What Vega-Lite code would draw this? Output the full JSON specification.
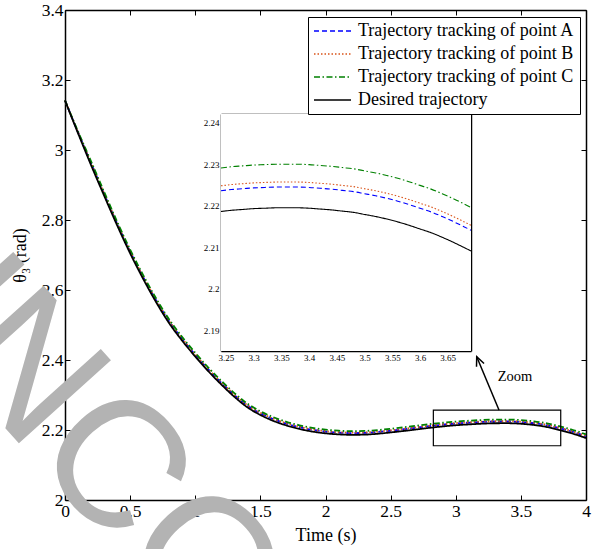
{
  "$schema": "https://vega.github.io/schema/vega-lite/v6.json",
  "width": 521,
  "height": 490,
  "autosize": {"type": "none"},
  "padding": {"left": 65, "top": 10, "right": 6, "bottom": 49},
  "background": "white",
  "config": {
    "view": {"stroke": null},
    "font": "Liberation Serif",
    "text": {"font": "Liberation Serif"},
    "axis": {"labelFont": "Liberation Serif", "titleFont": "Liberation Serif", "labelColor": "black", "titleColor": "black", "tickColor": "black", "domainColor": "black", "grid": false, "titleFontWeight": "normal", "zindex": 1, "labelFlush": false, "labelOverlap": false, "format": "~g"}
  },
  "datasets": {
    "main": [
      {"t": 0, "D": 3.1416, "A": 3.1416, "B": 3.1416, "C": 3.1416},
      {"t": 0.1, "D": 3.048, "A": 3.0505, "B": 3.051, "C": 3.053},
      {"t": 0.2, "D": 2.957, "A": 2.962, "B": 2.9632, "C": 2.9675},
      {"t": 0.3, "D": 2.87, "A": 2.875, "B": 2.8762, "C": 2.8805},
      {"t": 0.4, "D": 2.785, "A": 2.79, "B": 2.7912, "C": 2.7955},
      {"t": 0.5, "D": 2.705, "A": 2.71, "B": 2.7112, "C": 2.7155},
      {"t": 0.6, "D": 2.632, "A": 2.637, "B": 2.6382, "C": 2.6425},
      {"t": 0.7, "D": 2.565, "A": 2.57, "B": 2.5712, "C": 2.5755},
      {"t": 0.8, "D": 2.505, "A": 2.51, "B": 2.5112, "C": 2.5155},
      {"t": 0.9, "D": 2.455, "A": 2.46, "B": 2.4612, "C": 2.4655},
      {"t": 1.0, "D": 2.41, "A": 2.415, "B": 2.4162, "C": 2.4205},
      {"t": 1.1, "D": 2.368, "A": 2.373, "B": 2.3742, "C": 2.3785},
      {"t": 1.2, "D": 2.33, "A": 2.335, "B": 2.3362, "C": 2.3405},
      {"t": 1.3, "D": 2.295, "A": 2.3, "B": 2.3012, "C": 2.3055},
      {"t": 1.4, "D": 2.265, "A": 2.27, "B": 2.2712, "C": 2.2755},
      {"t": 1.5, "D": 2.243, "A": 2.248, "B": 2.2492, "C": 2.2535},
      {"t": 1.6, "D": 2.226, "A": 2.231, "B": 2.2322, "C": 2.2365},
      {"t": 1.7, "D": 2.213, "A": 2.218, "B": 2.2192, "C": 2.2235},
      {"t": 1.8, "D": 2.203, "A": 2.208, "B": 2.2092, "C": 2.2135},
      {"t": 1.9, "D": 2.1955, "A": 2.2005, "B": 2.2017, "C": 2.206},
      {"t": 2.0, "D": 2.1905, "A": 2.1955, "B": 2.1967, "C": 2.201},
      {"t": 2.1, "D": 2.1875, "A": 2.1925, "B": 2.1937, "C": 2.198},
      {"t": 2.2, "D": 2.1862, "A": 2.1912, "B": 2.1924, "C": 2.1967},
      {"t": 2.3, "D": 2.1868, "A": 2.1918, "B": 2.193, "C": 2.1973},
      {"t": 2.4, "D": 2.1893, "A": 2.1943, "B": 2.1955, "C": 2.1998},
      {"t": 2.5, "D": 2.193, "A": 2.198, "B": 2.1992, "C": 2.2035},
      {"t": 2.6, "D": 2.1972, "A": 2.2022, "B": 2.2034, "C": 2.2077},
      {"t": 2.7, "D": 2.2017, "A": 2.2067, "B": 2.2079, "C": 2.2122},
      {"t": 2.8, "D": 2.2062, "A": 2.2112, "B": 2.2124, "C": 2.2167},
      {"t": 2.9, "D": 2.2102, "A": 2.2152, "B": 2.2164, "C": 2.2207},
      {"t": 3.0, "D": 2.2136, "A": 2.2186, "B": 2.2198, "C": 2.2241},
      {"t": 3.1, "D": 2.216, "A": 2.221, "B": 2.2222, "C": 2.2265},
      {"t": 3.2, "D": 2.218, "A": 2.223, "B": 2.2242, "C": 2.2285},
      {"t": 3.3, "D": 2.2193, "A": 2.2243, "B": 2.2255, "C": 2.2298},
      {"t": 3.4, "D": 2.2194, "A": 2.2244, "B": 2.2256, "C": 2.2299},
      {"t": 3.5, "D": 2.2179, "A": 2.2229, "B": 2.2241, "C": 2.2284},
      {"t": 3.6, "D": 2.2144, "A": 2.2194, "B": 2.2206, "C": 2.2249},
      {"t": 3.7, "D": 2.2085, "A": 2.2135, "B": 2.2147, "C": 2.219},
      {"t": 3.8, "D": 2.1997, "A": 2.2047, "B": 2.2059, "C": 2.2102},
      {"t": 3.9, "D": 2.1895, "A": 2.1945, "B": 2.1957, "C": 2.2},
      {"t": 4.0, "D": 2.177, "A": 2.182, "B": 2.1832, "C": 2.1875}
    ],
    "inset": [
      {"t": 3.241, "D": 2.2186, "A": 2.2236, "B": 2.2248, "C": 2.2291},
      {"t": 3.26, "D": 2.2189, "A": 2.2239, "B": 2.2251, "C": 2.2294},
      {"t": 3.28, "D": 2.2191, "A": 2.2241, "B": 2.2253, "C": 2.2296},
      {"t": 3.3, "D": 2.2193, "A": 2.2243, "B": 2.2255, "C": 2.2298},
      {"t": 3.32, "D": 2.2194, "A": 2.2244, "B": 2.2256, "C": 2.2299},
      {"t": 3.34, "D": 2.2195, "A": 2.2245, "B": 2.2257, "C": 2.23},
      {"t": 3.36, "D": 2.2195, "A": 2.2245, "B": 2.2257, "C": 2.23},
      {"t": 3.38, "D": 2.2195, "A": 2.2245, "B": 2.2257, "C": 2.23},
      {"t": 3.4, "D": 2.2194, "A": 2.2244, "B": 2.2256, "C": 2.2299},
      {"t": 3.42, "D": 2.2192, "A": 2.2242, "B": 2.2254, "C": 2.2297},
      {"t": 3.44, "D": 2.219, "A": 2.224, "B": 2.2252, "C": 2.2295},
      {"t": 3.46, "D": 2.2187, "A": 2.2237, "B": 2.2249, "C": 2.2292},
      {"t": 3.48, "D": 2.2184, "A": 2.2234, "B": 2.2246, "C": 2.2289},
      {"t": 3.5, "D": 2.2179, "A": 2.2229, "B": 2.2241, "C": 2.2284},
      {"t": 3.52, "D": 2.2174, "A": 2.2224, "B": 2.2236, "C": 2.2279},
      {"t": 3.54, "D": 2.2168, "A": 2.2218, "B": 2.223, "C": 2.2273},
      {"t": 3.56, "D": 2.2161, "A": 2.2211, "B": 2.2223, "C": 2.2266},
      {"t": 3.58, "D": 2.2153, "A": 2.2203, "B": 2.2215, "C": 2.2258},
      {"t": 3.6, "D": 2.2144, "A": 2.2194, "B": 2.2206, "C": 2.2249},
      {"t": 3.62, "D": 2.2135, "A": 2.2185, "B": 2.2197, "C": 2.224},
      {"t": 3.64, "D": 2.2124, "A": 2.2174, "B": 2.2186, "C": 2.2229},
      {"t": 3.66, "D": 2.2112, "A": 2.2162, "B": 2.2174, "C": 2.2217},
      {"t": 3.68, "D": 2.2099, "A": 2.2149, "B": 2.2161, "C": 2.2204},
      {"t": 3.692, "D": 2.2091, "A": 2.2141, "B": 2.2153, "C": 2.2196}
    ]
  },
  "layer": [
    {
      "data": {"values": [{"t": -1.614, "v": 2.683, "txt": "UNCORRECTED PROOF"}]},
      "mark": {"type": "text", "font": "Liberation Sans", "fontSize": 180, "angle": 48, "align": "left", "baseline": "alphabetic", "color": "#b3b3b3"},
      "encoding": {
        "x": {"field": "t", "type": "quantitative", "scale": {"domain": [0, 4], "nice": false, "zero": false}, "axis": null},
        "y": {"field": "v", "type": "quantitative", "scale": {"domain": [2, 3.4], "nice": false, "zero": false}, "axis": null},
        "text": {"field": "txt"}
      }
    },
    {
      "data": {"name": "main"},
      "transform": [{"fold": ["A", "B", "C", "D"], "as": ["s", "v"]}],
      "mark": {"type": "line", "strokeWidth": 1.8, "interpolate": "monotone"},
      "encoding": {
        "x": {"field": "t", "type": "quantitative", "scale": {"domain": [0, 4], "nice": false, "zero": false},
          "axis": {"orient": "bottom", "values": [0, 0.5, 1, 1.5, 2, 2.5, 3, 3.5, 4], "labelFont": "Liberation Serif", "titleFont": "Liberation Serif", "labelFontSize": 17.5, "tickSize": -5, "labelPadding": 7, "domainWidth": 1.5, "title": "Time (s)", "titleFontSize": 18, "titlePadding": 7}},
        "y": {"field": "v", "type": "quantitative", "scale": {"domain": [2, 3.4], "nice": false, "zero": false},
          "axis": {"orient": "left", "values": [2, 2.2, 2.4, 2.6, 2.8, 3, 3.2, 3.4], "labelFont": "Liberation Serif", "titleFont": "Liberation Serif", "labelFontSize": 17.5, "tickSize": -5, "labelPadding": 7, "domainWidth": 1.5, "title": "θ₃ (rad)", "titleFontSize": 18, "titlePadding": 12}},
        "color": {"field": "s", "type": "nominal", "scale": {"domain": ["A", "B", "C", "D"], "range": ["#0000ff", "#d95319", "#008000", "#000000"]},
          "legend": {"orient": "none", "legendX": 243, "legendY": 7, "title": null, "symbolType": "stroke", "symbolSize": 1369, "symbolStrokeWidth": 1.5, "labelFont": "Liberation Serif", "labelFontSize": 18, "labelColor": "black", "labelLimit": 400, "labelOffset": 6, "padding": 5, "rowPadding": 5, "clipHeight": 18, "strokeColor": "black", "fillColor": "white",
            "labelExpr": "datum.label == 'D' ? 'Desired trajectory' : 'Trajectory tracking of point ' + datum.label"}},
        "strokeDash": {"field": "s", "type": "nominal", "scale": {"domain": ["A", "B", "C", "D"], "range": [[5, 3], [1.5, 2], [6, 2.5, 1.5, 2.5], [1, 0]]},
          "legend": {"orient": "none", "legendX": 243, "legendY": 7, "title": null, "symbolType": "stroke", "symbolSize": 1369, "symbolStrokeWidth": 1.5, "labelFont": "Liberation Serif", "labelFontSize": 18, "labelColor": "black", "labelLimit": 400, "labelOffset": 6, "padding": 5, "rowPadding": 5, "clipHeight": 18, "strokeColor": "black", "fillColor": "white",
            "labelExpr": "datum.label == 'D' ? 'Desired trajectory' : 'Trajectory tracking of point ' + datum.label"}}
      }
    },
    {
      "data": {"values": [{"x1": 2.828, "x2": 3.806, "y1": 2.155, "y2": 2.257}]},
      "mark": {"type": "rect", "filled": false, "stroke": "black", "strokeWidth": 1.2},
      "encoding": {
        "x": {"field": "x1", "type": "quantitative", "scale": {"domain": [0, 4], "nice": false, "zero": false},
          "axis": {"orient": "top", "values": [0, 0.5, 1, 1.5, 2, 2.5, 3, 3.5, 4], "labels": false, "tickSize": -5, "domainWidth": 1.5, "title": null}},
        "x2": {"field": "x2"},
        "y": {"field": "y1", "type": "quantitative", "scale": {"domain": [2, 3.4], "nice": false, "zero": false},
          "axis": {"orient": "right", "values": [2, 2.2, 2.4, 2.6, 2.8, 3, 3.2, 3.4], "labels": false, "tickSize": -5, "domainWidth": 1.5, "title": null}},
        "y2": {"field": "y2"}
      }
    },
    {
      "data": {"values": [{"x1": 3.332, "y1": 2.257, "x2": 3.161, "y2": 2.4094}]},
      "mark": {"type": "rule", "color": "black", "strokeWidth": 1.5},
      "encoding": {
        "x": {"field": "x1", "type": "quantitative", "scale": {"domain": [0, 4], "nice": false, "zero": false}, "axis": null},
        "y": {"field": "y1", "type": "quantitative", "scale": {"domain": [2, 3.4], "nice": false, "zero": false}, "axis": null},
        "x2": {"field": "x2"},
        "y2": {"field": "y2"}
      }
    },
    {
      "data": {"values": [{"x": 3.161, "y": 2.4094}]},
      "mark": {"type": "point", "shape": "M-0.45,1L0,0L0.45,1", "size": 330, "angle": 337, "filled": false, "stroke": "black", "strokeWidth": 1.5, "opacity": 1},
      "encoding": {
        "x": {"field": "x", "type": "quantitative", "scale": {"domain": [0, 4], "nice": false, "zero": false}, "axis": null},
        "y": {"field": "y", "type": "quantitative", "scale": {"domain": [2, 3.4], "nice": false, "zero": false}, "axis": null}
      }
    },
    {
      "data": {"values": [{"x": 3.322, "y": 2.341, "txt": "Zoom"}]},
      "mark": {"type": "text", "font": "Liberation Serif", "fontSize": 14.5, "align": "left", "baseline": "alphabetic", "color": "black"},
      "encoding": {
        "x": {"field": "x", "type": "quantitative", "scale": {"domain": [0, 4], "nice": false, "zero": false}, "axis": null},
        "y": {"field": "y", "type": "quantitative", "scale": {"domain": [2, 3.4], "nice": false, "zero": false}, "axis": null},
        "text": {"field": "txt"}
      }
    },
    {
      "data": {"values": [{"x1": 3.241, "x2": 3.692, "y1": 2.185, "y2": 2.2421}]},
      "mark": {"type": "rect", "fill": "white", "stroke": null},
      "encoding": {
        "x": {"field": "x1", "type": "quantitative", "scale": {"domain": [3.241, 3.692], "range": [156, 406], "nice": false, "zero": false},
          "axis": {"orient": "top", "offset": -104, "values": [3.25, 3.3, 3.35, 3.4, 3.45, 3.5, 3.55, 3.6, 3.65], "labels": false, "tickSize": -3, "domainWidth": 1.5, "title": null}},
        "x2": {"field": "x2"},
        "y": {"field": "y1", "type": "quantitative", "scale": {"domain": [2.185, 2.2421], "range": [341, 104], "nice": false, "zero": false},
          "axis": {"orient": "right", "offset": -115, "values": [2.19, 2.2, 2.21, 2.22, 2.23, 2.24], "labels": false, "tickSize": -3, "domainWidth": 1.5, "title": null}},
        "y2": {"field": "y2"}
      }
    },
    {
      "data": {"name": "inset"},
      "transform": [{"fold": ["A", "B", "C", "D"], "as": ["s", "v"]}],
      "mark": {"type": "line", "strokeWidth": 1.1, "interpolate": "monotone"},
      "encoding": {
        "x": {"field": "t", "type": "quantitative", "scale": {"domain": [3.241, 3.692], "range": [156, 406], "nice": false, "zero": false},
          "axis": {"orient": "bottom", "offset": -149, "values": [3.25, 3.3, 3.35, 3.4, 3.45, 3.5, 3.55, 3.6, 3.65], "labelFont": "Liberation Serif", "labelFontSize": 9, "tickSize": -3, "labelPadding": 5, "domainWidth": 1.5, "title": null}},
        "y": {"field": "v", "type": "quantitative", "scale": {"domain": [2.185, 2.2421], "range": [341, 104], "nice": false, "zero": false},
          "axis": {"orient": "left", "offset": -156, "values": [2.19, 2.2, 2.21, 2.22, 2.23, 2.24], "labelFont": "Liberation Serif", "labelFontSize": 9, "tickSize": -3, "labelPadding": 5, "domainWidth": 1.5, "title": null}},
        "color": {"field": "s", "type": "nominal", "scale": {"domain": ["A", "B", "C", "D"], "range": ["#0000ff", "#d95319", "#008000", "#000000"]},
          "legend": {"orient": "none", "legendX": 243, "legendY": 7, "title": null, "symbolType": "stroke", "symbolSize": 1369, "symbolStrokeWidth": 1.5, "labelFont": "Liberation Serif", "labelFontSize": 18, "labelColor": "black", "labelLimit": 400, "labelOffset": 6, "padding": 5, "rowPadding": 5, "clipHeight": 18, "strokeColor": "black", "fillColor": "white",
            "labelExpr": "datum.label == 'D' ? 'Desired trajectory' : 'Trajectory tracking of point ' + datum.label"}},
        "strokeDash": {"field": "s", "type": "nominal", "scale": {"domain": ["A", "B", "C", "D"], "range": [[5, 3], [1.5, 2], [6, 2.5, 1.5, 2.5], [1, 0]]},
          "legend": {"orient": "none", "legendX": 243, "legendY": 7, "title": null, "symbolType": "stroke", "symbolSize": 1369, "symbolStrokeWidth": 1.5, "labelFont": "Liberation Serif", "labelFontSize": 18, "labelColor": "black", "labelLimit": 400, "labelOffset": 6, "padding": 5, "rowPadding": 5, "clipHeight": 18, "strokeColor": "black", "fillColor": "white",
            "labelExpr": "datum.label == 'D' ? 'Desired trajectory' : 'Trajectory tracking of point ' + datum.label"}}
      }
    }
  ],
  "resolve": {"scale": {"x": "independent", "y": "independent"}, "axis": {"x": "independent", "y": "independent"}}
}
